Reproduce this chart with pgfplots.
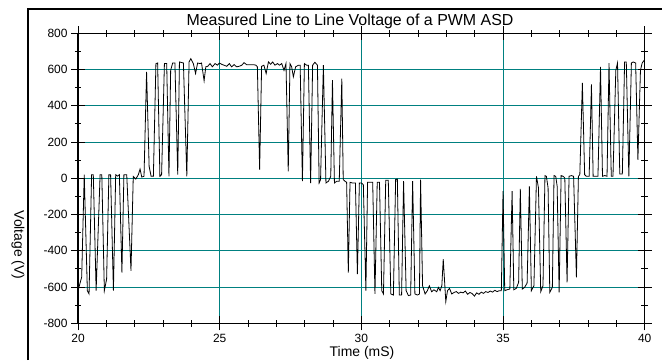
\documentclass[border=0pt]{standalone}
\usepackage{fontspec}
\setmainfont{Liberation Sans}
\usepackage{pgfplots}
\pgfplotsset{compat=1.18}
\definecolor{gridteal}{RGB}{0,128,128}
\begin{document}
\begin{tikzpicture}[x=1bp,y=1bp]
\useasboundingbox (0,0) rectangle (662,360);
\draw[line width=1.3bp] (28,0) -- (28,351) -- (662,351);
\begin{axis}[
  at={(78bp,36.7bp)}, anchor=south west,
  width=566.7bp, height=290bp, scale only axis,
  xmin=20, xmax=40, ymin=-800, ymax=800,
  xtick={20,25,30,35,40}, ytick={-800,-600,-400,-200,0,200,400,600,800},
  xticklabels={20,25,30,35,40},
  yticklabels={-800,-600,-400,-200,0,200,400,600,800},
  minor x tick num=4, minor y tick num=1,
  tick align=center,
  major tick length=14bp, minor tick length=6.5bp,
  every tick/.style={black, line width=0.9bp},
  grid=major,
  major grid style={gridteal, line width=1bp},
  axis line style={line width=1.2bp},
  ticklabel style={font=\fontsize{12}{14}\selectfont},
  clip=true,
]
\addplot[black, line width=0.8bp] coordinates {
(20.00,-620) (20.13,-545) (20.22,20) (20.33,-620) (20.39,-638) (20.48,20) (20.54,20)
(20.64,-620) (20.78,20) (20.84,20) (20.93,-620) (21.01,-556) (21.09,20) (21.15,20)
(21.25,-620) (21.33,20) (21.40,12) (21.46,20) (21.55,-520) (21.62,20) (21.72,20)
(21.87,-510) (21.95,10) (22.04,-4) (22.13,20) (22.19,51) (22.25,7) (22.33,11)
(22.42,587) (22.51,66) (22.58,11) (22.66,11) (22.75,633) (22.81,636) (22.89,11)
(22.95,20) (23.05,633) (23.13,633) (23.21,11) (23.27,596) (23.34,636) (23.42,636)
(23.52,20) (23.58,642) (23.72,636) (23.84,11) (23.92,642)
(23.98,660) (24.07,633) (24.15,578) (24.22,636) (24.31,633) (24.36,636) (24.45,538)
(24.51,615) (24.58,618) (24.66,633) (24.74,615) (24.84,633) (24.92,624) (24.99,636)
(25.07,629) (25.15,624) (25.25,618) (25.34,633) (25.42,615) (25.51,627) (25.60,615)
(25.69,618) (25.78,624) (25.86,638) (25.95,627) (26.07,627) (26.19,627) (26.28,624)
(26.33,615) (26.41,48) (26.48,618) (26.56,624) (26.64,578) (26.72,642) (26.80,629)
(26.87,642) (26.95,624) (27.04,633) (27.11,624) (27.19,633) (27.27,596) (27.34,633)
(27.42,38) (27.48,633) (27.54,615) (27.60,560) (27.68,615) (27.78,624) (27.84,624)
(27.92,-16) (27.99,633) (28.07,624) (28.13,624) (28.21,-26) (28.28,624) (28.36,640)
(28.45,624) (28.51,-26) (28.56,-7) (28.66,624) (28.75,-26) (28.84,-16) (28.92,11)
(28.98,541) (29.05,-26) (29.13,-16) (29.22,-16) (29.31,550) (29.36,-7) (29.42,-16)
(29.48,-22) (29.54,-520) (29.60,-22) (29.69,-26) (29.79,-26) (29.86,-529) (29.93,-26)
(30.00,-26) (30.07,-35) (30.16,-620) (30.22,-22) (30.31,-22) (30.40,-22) (30.48,-638)
(30.56,-22) (30.64,-22) (30.72,-620) (30.78,-638) (30.86,-11) (30.95,-11) (31.04,-638)
(31.13,-644) (31.21,-7) (31.27,-4) (31.34,-644) (31.42,-644) (31.49,-16) (31.58,-620)
(31.66,-647) (31.74,-644) (31.81,-16) (31.89,-638) (31.98,-644) (32.05,-638) (32.09,-7)
(32.16,-593) (32.25,-638) (32.33,-620) (32.40,-593) (32.48,-626) (32.56,-615) (32.66,-626)
(32.72,-602) (32.78,-620) (32.84,-593) (32.89,-446) (32.98,-680) (33.04,-620) (33.11,-607)
(33.19,-638) (33.27,-630) (33.35,-625) (33.43,-635) (33.51,-628) (33.59,-632) (33.67,-622)
(33.75,-640) (33.83,-630) (33.91,-636) (33.99,-650) (34.07,-632) (34.15,-640) (34.23,-628)
(34.31,-635) (34.39,-625) (34.47,-630) (34.55,-622) (34.63,-628) (34.71,-618) (34.79,-625)
(34.87,-620) (34.94,-620)
(35.00,-71) (35.06,-620) (35.14,-615) (35.24,-611) (35.32,-71) (35.38,-615) (35.47,-607)
(35.55,-574) (35.61,-59) (35.68,-611) (35.76,-602) (35.85,-578) (35.93,-44) (36.00,-620)
(36.09,-593) (36.18,11) (36.25,-53) (36.33,-626) (36.41,-593) (36.48,15) (36.53,11)
(36.59,-53) (36.65,-629) (36.74,-602) (36.80,15) (36.86,11) (36.91,-44) (36.98,-629)
(37.05,15) (37.12,11) (37.18,2) (37.26,-574) (37.33,11) (37.41,15) (37.49,11)
(37.59,-547) (37.66,11) (37.71,20) (37.80,527) (37.88,20) (37.94,11) (38.04,11)
(38.12,518) (38.18,11) (38.27,11) (38.35,11) (38.44,615) (38.51,11) (38.59,15)
(38.67,11) (38.74,636) (38.82,11) (38.88,11) (38.98,596) (39.04,636) (39.12,24)
(39.21,24) (39.29,642) (39.35,642) (39.44,11) (39.53,636) (39.59,642) (39.68,636)
(39.76,102) (39.85,596) (39.91,636) (40.00,655)
};
\end{axis}
\node[anchor=base, font=\fontsize{16}{19}\selectfont] at (350,334.3) {Measured Line to Line Voltage of a PWM ASD};
\node[rotate=-90, font=\fontsize{14}{16}\selectfont] at (18,115) {Voltage (V)};
\node[anchor=base, font=\fontsize{14}{16}\selectfont] at (362,3.6) {Time (mS)};
\end{tikzpicture}
\end{document}
